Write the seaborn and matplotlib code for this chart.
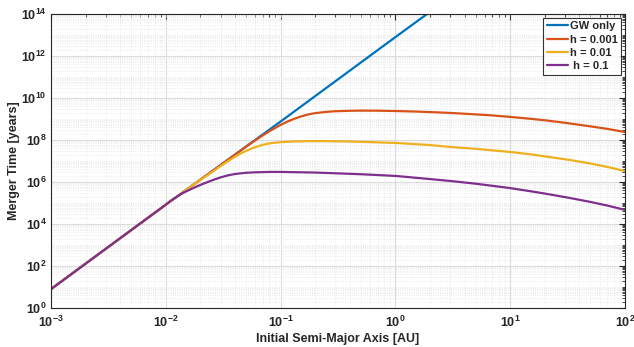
import numpy as np
import pandas as pd
import matplotlib
matplotlib.use("Agg")
import matplotlib.pyplot as plt
import seaborn as sns
from matplotlib.ticker import LogLocator, NullFormatter, FixedLocator

# ---- data (log10 of merger time in years) ----
gw_a = [1e-3, 1e-2, 1e-1, 1.0, 2.0]
gw_logt = [0.9, 4.92, 8.88, 12.9, 14.1]

h001_a = [1e-3, 1e-2, 0.03, 0.05, 0.06, 0.07, 0.08, 0.09, 0.1, 0.115, 0.13, 0.15, 0.175, 0.2, 0.25,
          0.3, 0.4, 0.5, 0.7, 1.0, 1.5, 2.0, 3.0, 5.0, 7.0, 10.0, 15.0, 20.0, 30.0, 50.0, 70.0, 100.0]
h001_logt = [0.9, 4.92, 6.8, 7.68, 7.98, 8.22, 8.42, 8.58, 8.72, 8.88, 9.0, 9.12, 9.22, 9.28, 9.34,
             9.37, 9.39, 9.4, 9.395, 9.38, 9.355, 9.33, 9.29, 9.22, 9.17, 9.1, 9.01, 8.94, 8.82, 8.65, 8.53, 8.38]

h01_a = [1e-3, 1e-2, 0.02, 0.025, 0.03, 0.035, 0.04, 0.045, 0.05, 0.06, 0.07, 0.08, 0.1, 0.13, 0.17,
         0.22, 0.4, 0.7, 1.0, 2.0, 3.0, 5.0, 10.0, 15.0, 20.0, 33.0, 50.0, 70.0, 100.0]
h01_logt = [0.9, 4.92, 6.1, 6.45, 6.76, 7.0, 7.2, 7.36, 7.48, 7.66, 7.77, 7.84, 7.9, 7.93, 7.945,
            7.95, 7.93, 7.89, 7.86, 7.76, 7.67, 7.58, 7.43, 7.32, 7.22, 7.05, 6.88, 6.72, 6.52]

h1_a = [1e-3, 1e-2, 0.011, 0.0125, 0.014, 0.016, 0.018, 0.02, 0.025, 0.03, 0.035, 0.04, 0.05, 0.06,
        0.08, 0.1, 0.2, 0.5, 1.0, 2.0, 3.0, 5.0, 10.0, 15.0, 20.0, 33.0, 50.0, 70.0, 100.0]
h1_logt = [0.9, 4.92, 5.1, 5.3, 5.47, 5.62, 5.75, 5.86, 6.07, 6.22, 6.32, 6.38, 6.44, 6.46,
           6.48, 6.48, 6.45, 6.37, 6.29, 6.14, 6.05, 5.92, 5.71, 5.56, 5.45, 5.24, 5.05, 4.88, 4.67]

labels = ["GW only", "h = 0.001", "h = 0.01", " h = 0.1"]
colors = ["#0072BD", "#D95319", "#EDB120", "#7E2F8E"]

frames = []
for lab, a, lt in zip(labels, [gw_a, h001_a, h01_a, h1_a], [gw_logt, h001_logt, h01_logt, h1_logt]):
    frames.append(pd.DataFrame({"a": a, "t": 10.0 ** np.array(lt), "series": lab}))
df = pd.concat(frames, ignore_index=True)

sns.set_style("white")
plt.rcParams["font.family"] = ["Liberation Sans", "DejaVu Sans"]
plt.rcParams["font.weight"] = "bold"
plt.rcParams["mathtext.fontset"] = "custom"
plt.rcParams["mathtext.rm"] = "Liberation Sans:bold"
plt.rcParams["mathtext.bf"] = "Liberation Sans:bold"
plt.rcParams["mathtext.it"] = "Liberation Sans:bold"
plt.rcParams["mathtext.default"] = "bf"

fig = plt.figure(figsize=(6.34, 3.47), dpi=100)
ax = fig.add_axes([51 / 634, 1 - 308 / 347, (625 - 51) / 634, (308 - 14) / 347])

sns.lineplot(data=df, x="a", y="t", hue="series", hue_order=labels, palette=colors,
             linewidth=1.6, ax=ax, sort=False, estimator=None)

ax.set_xscale("log")
ax.set_yscale("log")
ax.set_xlim(1e-3, 1e2)
ax.set_ylim(1e0, 1e14)

ax.xaxis.set_major_locator(FixedLocator([10.0 ** k for k in range(-3, 3)]))
ax.yaxis.set_major_locator(FixedLocator([10.0 ** k for k in range(0, 15, 2)]))
ax.xaxis.set_minor_locator(LogLocator(base=10, subs=np.arange(2, 10), numticks=100))
ax.yaxis.set_minor_locator(LogLocator(base=10, subs=np.arange(1, 10), numticks=100))
ax.xaxis.set_minor_formatter(NullFormatter())
ax.yaxis.set_minor_formatter(NullFormatter())
ax.set_xticklabels([r"$\mathbf{10^{%d}}$" % k for k in range(-3, 3)])
ax.set_yticklabels([r"$\mathbf{10^{%d}}$" % k for k in range(0, 15, 2)])

ax.grid(True, which="major", color="#dcdcdc", linewidth=0.8, linestyle="-")
ax.grid(True, which="minor", color="#e4e4e4", linewidth=0.6, linestyle=":")
ax.set_axisbelow(True)

ax.tick_params(which="both", direction="in", top=True, right=True, labelsize=9, colors="#262626")
ax.tick_params(which="major", length=4, width=0.8, pad=3)
ax.tick_params(axis="x", which="major", pad=5)
ax.tick_params(which="minor", length=2, width=0.6)
for s in ax.spines.values():
    s.set_color("#262626")
    s.set_linewidth(0.8)

ax.set_xlabel("Initial Semi-Major Axis [AU]", fontsize=9, fontweight="bold", labelpad=2)
ax.set_ylabel("Merger Time [years]", fontsize=9, fontweight="bold", labelpad=1)

leg = ax.legend(loc="upper right", fontsize=8, frameon=True, fancybox=False,
                edgecolor="black", handlelength=1.9, handletextpad=0.2,
                borderpad=0.3, labelspacing=0.3, borderaxespad=0.35)
leg.get_frame().set_linewidth(0.8)
for t in leg.get_texts():
    t.set_fontweight("bold")

fig.savefig("out.png", dpi=100)
